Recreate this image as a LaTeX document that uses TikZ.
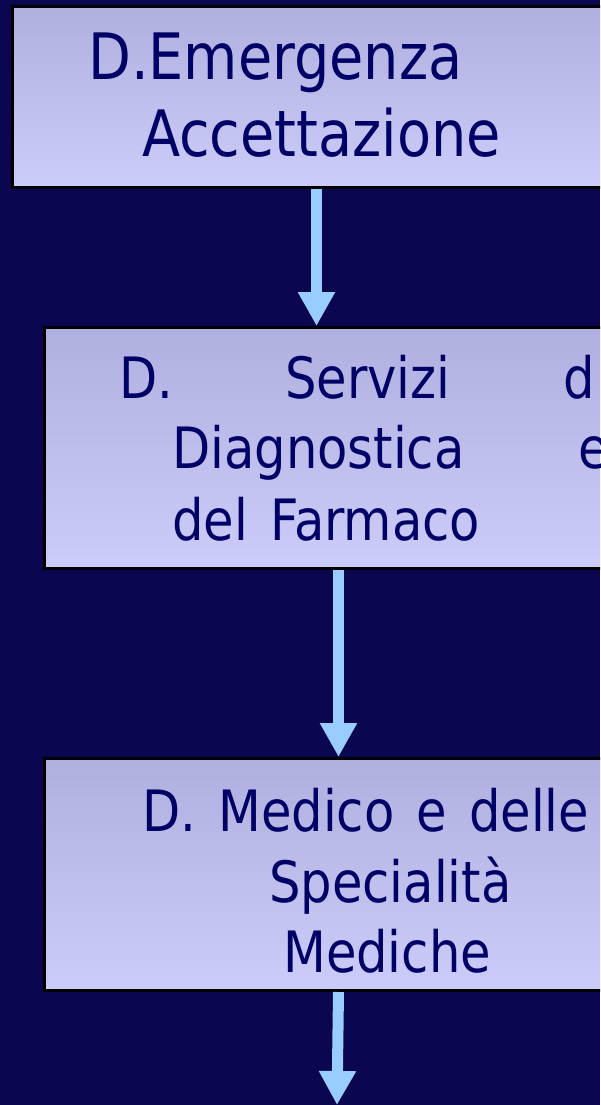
\documentclass[tikz,border=0pt]{standalone}
\usepackage{fontspec}
\setmainfont{DejaVu Sans}[FakeStretch=0.87,WordSpace=1.4]
\usetikzlibrary{arrows.meta}
\definecolor{slidebg}{RGB}{11,6,80}
\definecolor{boxtop}{RGB}{176,176,224}
\definecolor{boxbot}{RGB}{204,204,250}
\definecolor{boxtext}{RGB}{0,0,102}
\definecolor{arrowblue}{RGB}{153,204,255}
\tikzset{
  unit/.style={rectangle,draw=black,line width=3pt,top color=boxtop,bottom color=boxbot,inner sep=0pt,anchor=north west},
  bigtxt/.style={text=boxtext,inner sep=0pt,anchor=base west,font=\fontsize{64}{76}\selectfont},
  smalltxt/.style={text=boxtext,inner sep=0pt,anchor=base west,font=\fontsize{57}{70}\selectfont},
  flow/.style={arrowblue,line width=11pt,-{Triangle[width=35pt,length=34pt]}}
}

\begin{document}
\begin{tikzpicture}[x=1pt,y=-1pt]
      \useasboundingbox (0,0) rectangle (600,1105);
      \clip (0,0) rectangle (600,1105);
      \fill[slidebg] (0,0) rectangle (600,1105);
      \node[unit,minimum width=609pt,minimum height=180pt] (emerg) at (10.5,5.5) {};
      \node[unit,minimum width=588pt,minimum height=241pt] (diag) at (43,326) {};
      \node[unit,minimum width=588pt,minimum height=232pt] (medico) at (43,757) {};
      \coordinate (out) at (337,1105);
      \node[bigtxt] (emergA) at (88,80) {D.Emergenza};
      \node[bigtxt] (emergB) at (142,156) {Accettazione};
      \node[smalltxt] (diagA) at (119,398) {D.};
      \node[smalltxt] (diagB) at (285,398) {Servizi};
      \node[smalltxt] (diagC) at (563,398) {d};
      \node[smalltxt] (diagD) at (172,468) {Diagnostica};
      \node[smalltxt] (diagE) at (578,468) {e};
      \node[smalltxt] (diagF) at (172,540) {del Farmaco};
      \node[smalltxt] (medicoA) at (142,831) {D. Medico e delle};
      \node[smalltxt] (medicoB) at (269,902) {Specialità};
      \node[smalltxt] (medicoC) at (283,972) {Mediche};
      \draw[flow] (emerg.south) -- (emerg.south |- diag.north);
      \draw[flow] (diag.south) -- (medico.north);
      \draw[flow] (medico.south) -- (out);
    \end{tikzpicture}
\end{document}
